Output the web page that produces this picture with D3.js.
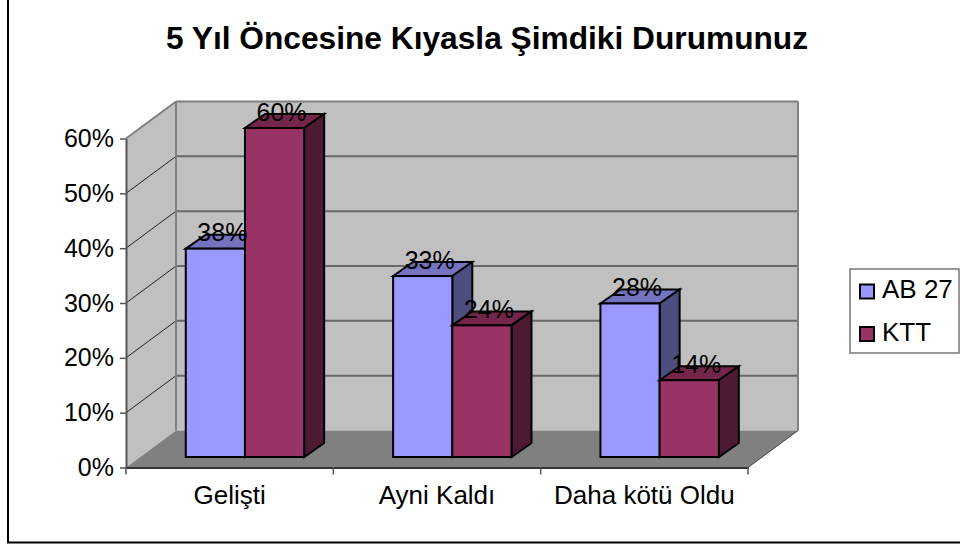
<!DOCTYPE html>
<html><head><meta charset="utf-8">
<script src="https://d3js.org/d3.v7.min.js"></script>
<style>html,body{margin:0;padding:0;background:#fff}svg{display:block}text{font-family:"Liberation Sans",Arial,sans-serif;fill:#000}</style>
</head><body><div id="c"></div>
<script>
const categories = ["Gelişti", "Ayni Kaldı", "Daha kötü Oldu"];
const seriesNames = ["AB 27", "KTT"];
const ab27 = [38, 33, 28];
const ktt = [60, 24, 14];
const yTicks = [0, 10, 20, 30, 40, 50, 60];
const seriesColors = ["#9999FF", "#993366"];
const topColors = ["#7373BF", "#732649"];
const sideColors = ["#4D4D80", "#4D1A33"];
const chartTitle = "5 Yıl Öncesine Kıyasla Şimdiki Durumunuz";

const W = 960, H = 546;
const svg = d3.select("#c").append("svg").attr("width", W).attr("height", H);

svg.append("path").attr("d", "M8,-2V542.5H962").attr("fill", "none").attr("stroke", "#000").attr("stroke-width", 2);

const plot = {left: 126, right: 748, bottom: 467.5, top: 138.5, dx: 50, dy: -37};
const y = d3.scaleLinear().domain([0, 60]).range([plot.bottom, plot.top]);
const x = d3.scaleBand().domain(categories).range([plot.left, plot.right]).paddingInner(0).paddingOuter(0);
const inner = d3.scaleBand().domain(seriesNames).range([x.bandwidth() * 0.2145, x.bandwidth() * 0.7855]);

const line = d3.line();
// walls and floor
svg.append("path").attr("d", line([[plot.left, plot.bottom], [plot.left + plot.dx, plot.bottom + plot.dy], [plot.left + plot.dx, y(60) + plot.dy], [plot.left, y(60)]]) + "Z").attr("fill", "#C0C0C0");
svg.append("path").attr("d", line([[plot.left + plot.dx, plot.bottom + plot.dy], [plot.right + plot.dx, plot.bottom + plot.dy], [plot.right + plot.dx, y(60) + plot.dy], [plot.left + plot.dx, y(60) + plot.dy]]) + "Z").attr("fill", "#C0C0C0");
svg.append("path").attr("d", line([[plot.left, plot.bottom], [plot.right, plot.bottom], [plot.right + plot.dx, plot.bottom + plot.dy], [plot.left + plot.dx, plot.bottom + plot.dy]]) + "Z").attr("fill", "#808080");

// grid
yTicks.forEach(t => {
  if (t > 0 && t < 60) svg.append("path").attr("d", line([[plot.left, y(t)], [plot.left + plot.dx, y(t) + plot.dy]])).attr("stroke", "#222").attr("fill", "none");
  if (t > 0) svg.append("path").attr("d", line([[plot.left + plot.dx, y(t) + plot.dy], [plot.right + plot.dx, y(t) + plot.dy]])).attr("stroke", t === 60 ? "#808080" : "#686868").attr("stroke-width", 2).attr("fill", "none");
});
svg.append("path").attr("d", line([[plot.left, y(60)], [plot.left + plot.dx, y(60) + plot.dy]])).attr("stroke", "#808080").attr("stroke-width", 2).attr("fill", "none");
svg.append("path").attr("d", line([[plot.left + plot.dx, plot.bottom + plot.dy], [plot.left + plot.dx, y(60) + plot.dy]])).attr("stroke", "#808080").attr("stroke-width", 2);
svg.append("path").attr("d", line([[plot.right + plot.dx, plot.bottom + plot.dy], [plot.right + plot.dx, y(60) + plot.dy]])).attr("stroke", "#808080").attr("stroke-width", 2);
svg.append("path").attr("d", line([[plot.right, plot.bottom], [plot.right + plot.dx, plot.bottom + plot.dy]])).attr("stroke", "#444").attr("stroke-width", 1).attr("fill", "none");

// axes
const yAxis = d3.axisLeft(y).tickValues(yTicks).tickFormat(d => d + "%").tickSize(6).tickPadding(6).tickSizeOuter(0);
const ga = svg.append("g").attr("transform", `translate(${plot.left},0)`).call(yAxis);
ga.selectAll("text").style("font-size", "25px").attr("fill", "#000");
ga.selectAll("line").attr("stroke", "#555").attr("stroke-width", 1.5);
ga.selectAll("path").attr("stroke", "#555").attr("stroke-width", 2);
const xAxis = d3.axisBottom(x).tickSize(0).tickPadding(18);
const gx = svg.append("g").attr("transform", `translate(0,${plot.bottom})`).call(xAxis);
gx.selectAll("text").style("font-size", "26px").attr("fill", "#000");
gx.selectAll("path").attr("stroke", "#333").attr("stroke-width", 2);
gx.selectAll(".tick line").remove();
d3.range(categories.length + 1).forEach(i => {
  const px = plot.left + i * x.step();
  svg.append("line").attr("x1", px).attr("x2", px).attr("y1", plot.bottom).attr("y2", plot.bottom + 7).attr("stroke", "#555").attr("stroke-width", 1.5);
});

// bars
const barDx = 20, barDy = -14, offX = 15.3, offY = -10.5;
[ab27, ktt].forEach((vals, s) => {
  categories.forEach((c, i) => {
    const v = vals[i];
    const x0 = x(c) + inner(seriesNames[s]) + offX;
    const w = inner.bandwidth();
    const y0 = y(0) + offY, y1 = y(v) + offY;
    const g = svg.append("g").attr("stroke", "#000").attr("stroke-width", 2).attr("stroke-linejoin", "miter");
    g.append("path").attr("d", line([[x0, y1], [x0 + barDx, y1 + barDy], [x0 + w + barDx, y1 + barDy], [x0 + w, y1]]) + "Z").attr("fill", topColors[s]);
    g.append("path").attr("d", line([[x0 + w, y1], [x0 + w + barDx, y1 + barDy], [x0 + w + barDx, y0 + barDy], [x0 + w, y0]]) + "Z").attr("fill", sideColors[s]);
    g.append("rect").attr("x", x0).attr("y", y1).attr("width", w).attr("height", y0 - y1).attr("fill", seriesColors[s]);
  });
});
// labels above all bars
[ab27, ktt].forEach((vals, s) => {
  categories.forEach((c, i) => {
    svg.append("text").attr("x", x(c) + inner(seriesNames[s]) + offX + inner.bandwidth() / 2 + 7)
      .attr("y", y(vals[i]) + offY - 7.5).attr("text-anchor", "middle").style("font-size", "25px").text(vals[i] + "%");
  });
});

// title
svg.append("text").attr("x", 487).attr("y", 49).attr("text-anchor", "middle").style("font-size", "31.7px").style("font-weight", "700").text(chartTitle);

// legend
const lg = svg.append("g");
lg.append("rect").attr("x", 850).attr("y", 269).attr("width", 109).attr("height", 84).attr("fill", "#fff").attr("stroke", "#777").attr("stroke-width", 1.5);
seriesNames.forEach((n, i) => {
  const cy = 291.5 + i * 42.5;
  lg.append("rect").attr("x", 860).attr("y", cy - 7).attr("width", 14).attr("height", 14).attr("fill", seriesColors[i]).attr("stroke", "#000").attr("stroke-width", 2);
  lg.append("text").attr("x", 882).attr("y", cy + 6.5).style("font-size", "26px").text(n);
});
</script></body></html>
